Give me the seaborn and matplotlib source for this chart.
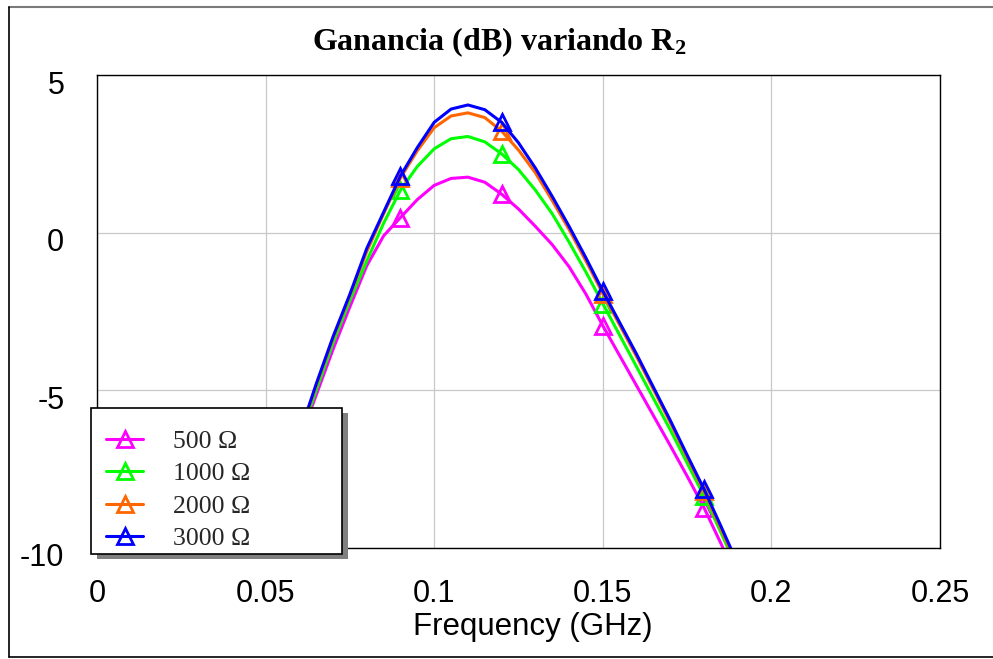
import numpy as np
import pandas as pd
import matplotlib
matplotlib.use("Agg")
import matplotlib.pyplot as plt
from matplotlib.lines import Line2D
from matplotlib.patches import Rectangle
from matplotlib.transforms import ScaledTranslation
import seaborn as sns

# Frequency sweep (GHz), 5 MHz step
freq = [0.045, 0.050, 0.055, 0.060, 0.065, 0.070, 0.075, 0.080, 0.085, 0.090,
        0.095, 0.100, 0.105, 0.110, 0.115, 0.120, 0.125, 0.130, 0.135, 0.140,
        0.145, 0.150, 0.155, 0.160, 0.165, 0.170, 0.175, 0.180, 0.185, 0.190]

# Gain (dB) for each value of R2
gain_500 = [-12.2, -10.1, -8.2, -6.6, -5.15, -3.7, -2.35, -1.05, -0.10, 0.48,
            1.05, 1.50, 1.72, 1.76, 1.60, 1.22, 0.75, 0.20, -0.38, -1.08,
            -1.95, -2.95, -3.90, -4.85, -5.80, -6.75, -7.72, -8.72, -9.85, -11.0]
gain_1000 = [-12.0, -10.0, -8.25, -6.55, -5.0, -3.5, -2.15, -0.90, 0.30, 1.35,
             2.10, 2.66, 2.98, 3.05, 2.88, 2.50, 2.00, 1.35, 0.60, -0.30,
             -1.25, -2.25, -3.25, -4.25, -5.25, -6.25, -7.30, -8.35, -9.50, -10.7]
gain_2000 = [-11.95, -9.95, -8.15, -6.45, -4.85, -3.35, -2.00, -0.60, 0.60, 1.74,
             2.60, 3.33, 3.70, 3.80, 3.65, 3.22, 2.62, 1.90, 1.02, 0.10,
             -0.90, -1.93, -2.93, -3.93, -4.97, -6.02, -7.12, -8.20, -9.38, -10.6]
gain_3000 = [-11.9, -9.9, -8.1, -6.4, -4.8, -3.3, -1.95, -0.50, 0.65, 1.80,
             2.70, 3.50, 3.92, 4.05, 3.90, 3.50, 2.85, 2.05, 1.15, 0.20,
             -0.80, -1.85, -2.85, -3.85, -4.90, -5.95, -7.05, -8.13, -9.30, -10.5]

labels = ["500 \u03a9", "1000 \u03a9", "2000 \u03a9", "3000 \u03a9"]
colors = ["#ff00ff", "#00ff00", "#ff6600", "#0000ff"]

x_ticks = [0, 0.05, 0.1, 0.15, 0.2, 0.25]
x_tick_labels = ["0", "0.05", "0.1", "0.15", "0.2", "0.25"]
y_ticks = [-10, -5, 0, 5]
y_tick_labels = ["-10", "-5", "0", "5"]

df = pd.concat([
    pd.DataFrame({"f": freq, "g": g, "R": lab})
    for g, lab in zip([gain_500, gain_1000, gain_2000, gain_3000], labels)
], ignore_index=True)

sns.set_theme(style="white")
plt.rcParams["font.family"] = ["Liberation Sans", "DejaVu Sans"]
plt.rcParams["mathtext.fontset"] = "custom"
plt.rcParams["mathtext.rm"] = "Liberation Serif:bold"
plt.rcParams["mathtext.it"] = "Liberation Serif:bold"
plt.rcParams["mathtext.bf"] = "Liberation Serif:bold"

W, H = 993, 659
fig = plt.figure(figsize=(W / 100, H / 100), dpi=100)
fig.patch.set_facecolor("white")
ax = fig.add_axes([97 / W, 1 - 548 / H, (940 - 97) / W, (548 - 75) / H])

sns.lineplot(data=df, x="f", y="g", hue="R", hue_order=labels,
             palette=colors, sort=False, legend=False, ax=ax,
             lw=2.2, marker="^", markevery=(9, 6), ms=11,
             mfc="none", mew=2.0)
for line in ax.lines:
    line.set_markeredgecolor(line.get_color())
    line.set_markerfacecolor("none")
    line.set_linestyle("-")

ax.set_xlim(0, 0.25)
ax.set_ylim(-10, 5)
ax.set_xticks(x_ticks)
ax.set_xticklabels(x_tick_labels)
ax.set_yticks(y_ticks)
ax.set_yticklabels(y_tick_labels)
ax.tick_params(axis="both", length=0, labelsize=22, colors="black")
ax.tick_params(axis="x", pad=22)
ax.tick_params(axis="y", pad=23.5)
for lab in ax.get_yticklabels():
    lab.set_transform(lab.get_transform() + ScaledTranslation(0, -7 / 100, fig.dpi_scale_trans))
ax.grid(True, color="#c8c8c8", lw=0.9)
ax.set_axisbelow(True)
for sp in ax.spines.values():
    sp.set_visible(True)
    sp.set_color("black")
    sp.set_linewidth(1.0)

ax.set_xlabel("Frequency (GHz)", fontsize=22.5, color="black")
ax.xaxis.set_label_coords((533 - 97) / (940 - 97), -(612 - 548) / (548 - 75))
ax.set_ylabel("")

fig.text(499 / W, 1 - 42 / H, r"Ganancia (dB) variando R$_2$",
         ha="center", va="center", fontsize=23, fontweight="bold",
         family="Liberation Serif", color="black")

# legend box with drop shadow
def fig_rect(x0, y0, x1, y1, **kw):
    return Rectangle((x0 / W, 1 - y1 / H), (x1 - x0) / W, (y1 - y0) / H,
                     transform=fig.transFigure, clip_on=False, **kw)

ax.add_patch(fig_rect(97, 413, 348, 559, facecolor="#808080", edgecolor="none", zorder=8))
ax.add_patch(fig_rect(91, 408, 342, 554, facecolor="white", edgecolor="black",
                      lw=1.2, zorder=9))

leg = ax.legend(handles=list(ax.lines), labels=labels,
                loc="center left",
                bbox_to_anchor=(106 / W, 1 - 490 / H),
                bbox_transform=fig.transFigure,
                frameon=False,
                prop={"family": "Liberation Serif", "size": 18.5},
                handlelength=1.45, handletextpad=1.15, labelspacing=0.37,
                borderpad=0.0, borderaxespad=0.0, numpoints=1)
leg.set_zorder(10)

# outer frame
fig.add_artist(Line2D([9 / W, 1.0], [1 - 7 / H, 1 - 7 / H], transform=fig.transFigure,
                      color="#7a7a7a", lw=1.5))
fig.add_artist(Line2D([9 / W, 9 / W], [1 - 7 / H, 1 - 657 / H], transform=fig.transFigure,
                      color="black", lw=1.2))
fig.add_artist(Line2D([9 / W, 1.0], [1 - 657 / H, 1 - 657 / H], transform=fig.transFigure,
                      color="black", lw=1.2))

fig.savefig("out.png", dpi=100, facecolor="white")
